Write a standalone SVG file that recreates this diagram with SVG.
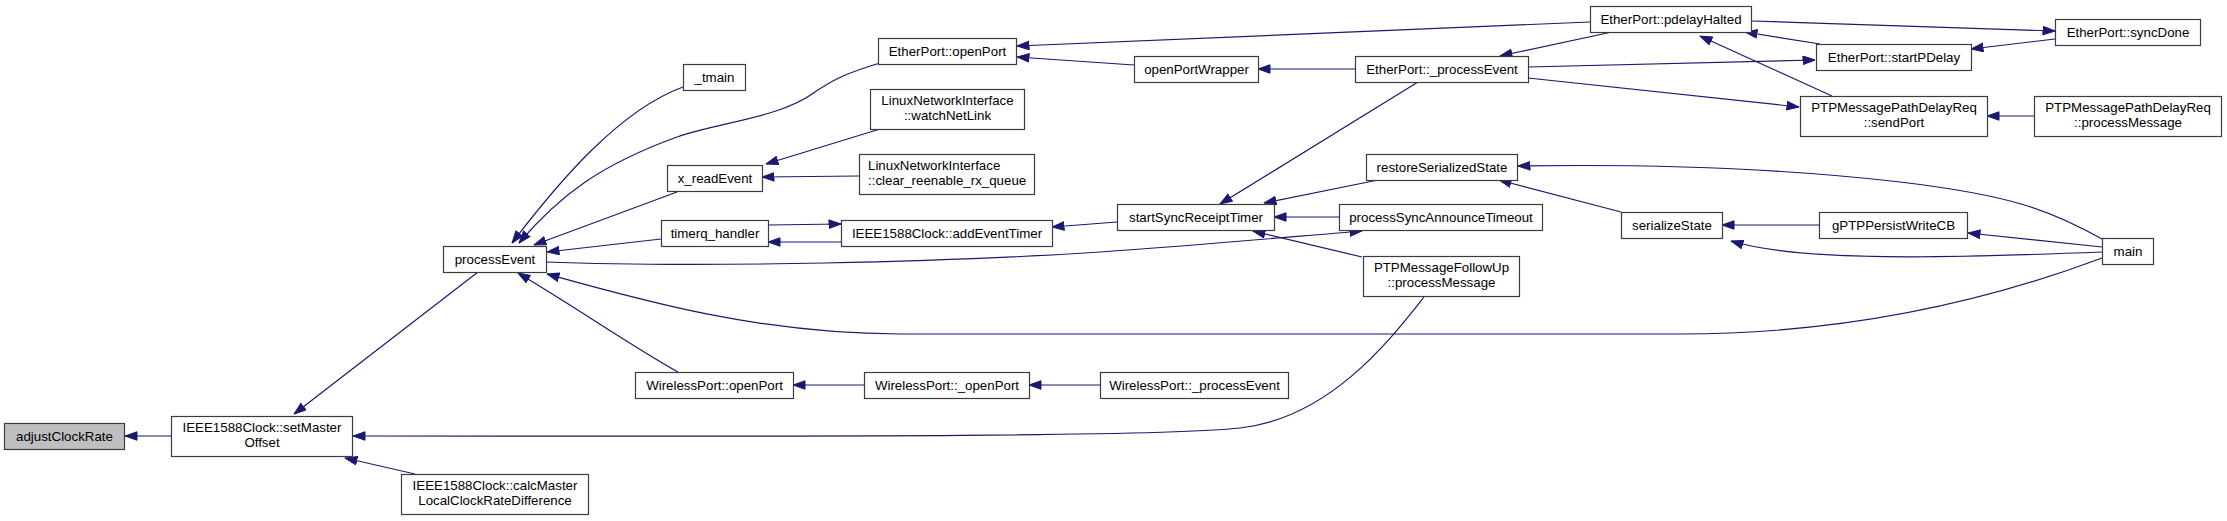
<svg xmlns="http://www.w3.org/2000/svg" width="2227" height="521" viewBox="0 0 2227 521">
<style>
.n rect{fill:#ffffff;stroke:#3c3c3c;stroke-width:1.2}
.n.root rect{fill:#bfbfbf}
.n text{font-family:"Liberation Sans",Arial,sans-serif;font-size:13.3px;fill:#000;text-anchor:middle}
.n text.l{text-anchor:start}
.e path{fill:none;stroke:#191970;stroke-width:1.2;marker-end:url(#ah)}
</style>
<defs>
<marker id="ah" markerUnits="userSpaceOnUse" markerWidth="13" markerHeight="10" refX="12.5" refY="4.75" orient="auto">
<path d="M0.5,0.5 L12.5,4.75 L0.5,9 z" fill="#191970" stroke="#191970" stroke-width="1"/>
</marker>
</defs>
<rect width="2227" height="521" fill="#ffffff"/>
<g id="edges" class="e">
<path d="M171,436 L125,436"/>
<path d="M478,272 L294,414"/>
<path d="M415,474 L345,458"/>
<path d="M1424,297 C1390,340 1330,418 1240,428 C1150,438 700,436 353,436"/>
<path d="M683,87 C620,110 560,180 512,243"/>
<path d="M880,63 C840,75 830,82 815,92 C780,118 720,122 677,137 C600,165 560,195 519,243"/>
<path d="M677,192 L534,245"/>
<path d="M661,239 L547,252"/>
<path d="M546,262 C700,268 950,262 1100,252 C1200,245 1300,236 1362,231"/>
<path d="M768,225 L841,224"/>
<path d="M841,242 L768,242"/>
<path d="M2102,258 C1990,300 1850,334 1680,334 L900,334 C760,334 640,300 547,274"/>
<path d="M678,372 C630,345 580,310 518,273"/>
<path d="M1590,22 L1017,46"/>
<path d="M1134,65 L1017,57"/>
<path d="M1355,69 L1258,69"/>
<path d="M1612,32 L1500,56"/>
<path d="M1528,67 L1815,60"/>
<path d="M1528,78 L1799,107"/>
<path d="M1418,82 L1220,204"/>
<path d="M1378,180 L1264,203"/>
<path d="M1339,217 L1274,217"/>
<path d="M1362,257 L1253,231"/>
<path d="M1117,222 L1052,227"/>
<path d="M2102,239 C2050,210 2010,195 1900,182 C1780,168 1650,164 1518,166"/>
<path d="M1621,212 L1499,180"/>
<path d="M1819,225 L1722,225"/>
<path d="M2102,252 C1950,258 1800,262 1731,241"/>
<path d="M2102,247 L1968,233"/>
<path d="M1752,21 L2055,31"/>
<path d="M2055,39 L1971,49"/>
<path d="M1820,44 L1745,32"/>
<path d="M1832,96 L1700,36"/>
<path d="M2034,116 L1987,116"/>
<path d="M880,129 L766,164"/>
<path d="M859,176 L762,177"/>
<path d="M864,385 L793,385"/>
<path d="M1100,385 L1029,385"/>
</g>
<g id="adjustClockRate" class="n root"><rect x="4.5" y="423.5" width="120" height="26"/><text x="64.5" y="441">adjustClockRate</text></g>
<g id="setMasterOffset" class="n"><rect x="171.5" y="416.5" width="181" height="40"/><text x="262" y="432">IEEE1588Clock::setMaster</text><text x="262" y="447">Offset</text></g>
<g id="calcMaster" class="n"><rect x="401.5" y="474.5" width="187" height="40"/><text x="495" y="490">IEEE1588Clock::calcMaster</text><text x="495" y="505">LocalClockRateDifference</text></g>
<g id="processEvent" class="n"><rect x="443.5" y="246.5" width="103" height="26"/><text x="495" y="264">processEvent</text></g>
<g id="tmain" class="n"><rect x="683.5" y="64.5" width="62" height="26"/><text x="714.5" y="82">_tmain</text></g>
<g id="EtherPort_openPort" class="n"><rect x="878.5" y="38.5" width="138" height="26"/><text x="947.5" y="56">EtherPort::openPort</text></g>
<g id="watchNetLink" class="n"><rect x="870.5" y="89.5" width="154" height="40"/><text x="947.5" y="105">LinuxNetworkInterface</text><text x="947.5" y="120">::watchNetLink</text></g>
<g id="x_readEvent" class="n"><rect x="667.5" y="165.5" width="95" height="26"/><text x="715" y="183">x_readEvent</text></g>
<g id="clear_reenable" class="n"><rect x="859.5" y="154.5" width="175" height="40"/><text class="l" x="868" y="170">LinuxNetworkInterface</text><text class="l" x="868" y="185">::clear_reenable_rx_queue</text></g>
<g id="timerq_handler" class="n"><rect x="661.5" y="220.5" width="107" height="26"/><text x="715" y="238">timerq_handler</text></g>
<g id="addEventTimer" class="n"><rect x="841.5" y="220.5" width="211" height="26"/><text x="947" y="238">IEEE1588Clock::addEventTimer</text></g>
<g id="WirelessPort_openPort" class="n"><rect x="635.5" y="372.5" width="158" height="26"/><text x="714.5" y="390">WirelessPort::openPort</text></g>
<g id="WirelessPort__openPort" class="n"><rect x="864.5" y="372.5" width="165" height="26"/><text x="947" y="390">WirelessPort::_openPort</text></g>
<g id="WirelessPort__processEvent" class="n"><rect x="1100.5" y="372.5" width="188" height="26"/><text x="1194.5" y="390">WirelessPort::_processEvent</text></g>
<g id="openPortWrapper" class="n"><rect x="1134.5" y="56.5" width="124" height="26"/><text x="1196.5" y="74">openPortWrapper</text></g>
<g id="startSyncReceiptTimer" class="n"><rect x="1117.5" y="204.5" width="157" height="26"/><text x="1196" y="222">startSyncReceiptTimer</text></g>
<g id="pdelayHalted" class="n"><rect x="1590.5" y="6.5" width="161" height="26"/><text x="1671" y="24">EtherPort::pdelayHalted</text></g>
<g id="EtherPort__processEvent" class="n"><rect x="1355.5" y="56.5" width="173" height="26"/><text x="1442" y="74">EtherPort::_processEvent</text></g>
<g id="restoreSerializedState" class="n"><rect x="1366.5" y="154.5" width="151" height="26"/><text x="1442" y="172">restoreSerializedState</text></g>
<g id="processSyncAnnounceTimeout" class="n"><rect x="1339.5" y="204.5" width="203" height="26"/><text x="1441" y="222">processSyncAnnounceTimeout</text></g>
<g id="FollowUp_processMessage" class="n"><rect x="1363.5" y="256.5" width="156" height="40"/><text x="1441.5" y="272">PTPMessageFollowUp</text><text x="1441.5" y="287">::processMessage</text></g>
<g id="serializeState" class="n"><rect x="1621.5" y="212.5" width="101" height="26"/><text x="1672" y="230">serializeState</text></g>
<g id="startPDelay" class="n"><rect x="1816.5" y="44.5" width="155" height="26"/><text x="1894" y="62">EtherPort::startPDelay</text></g>
<g id="sendPort" class="n"><rect x="1800.5" y="96.5" width="187" height="40"/><text x="1894" y="112">PTPMessagePathDelayReq</text><text x="1894" y="127">::sendPort</text></g>
<g id="syncDone" class="n"><rect x="2055.5" y="19.5" width="145" height="26"/><text x="2128" y="37">EtherPort::syncDone</text></g>
<g id="PathDelayReq_processMessage" class="n"><rect x="2034.5" y="96.5" width="187" height="40"/><text x="2128" y="112">PTPMessagePathDelayReq</text><text x="2128" y="127">::processMessage</text></g>
<g id="gPTPPersistWriteCB" class="n"><rect x="1819.5" y="212.5" width="148" height="26"/><text x="1893.5" y="230">gPTPPersistWriteCB</text></g>
<g id="main" class="n"><rect x="2102.5" y="238.5" width="51" height="26"/><text x="2128" y="256">main</text></g>
</svg>
